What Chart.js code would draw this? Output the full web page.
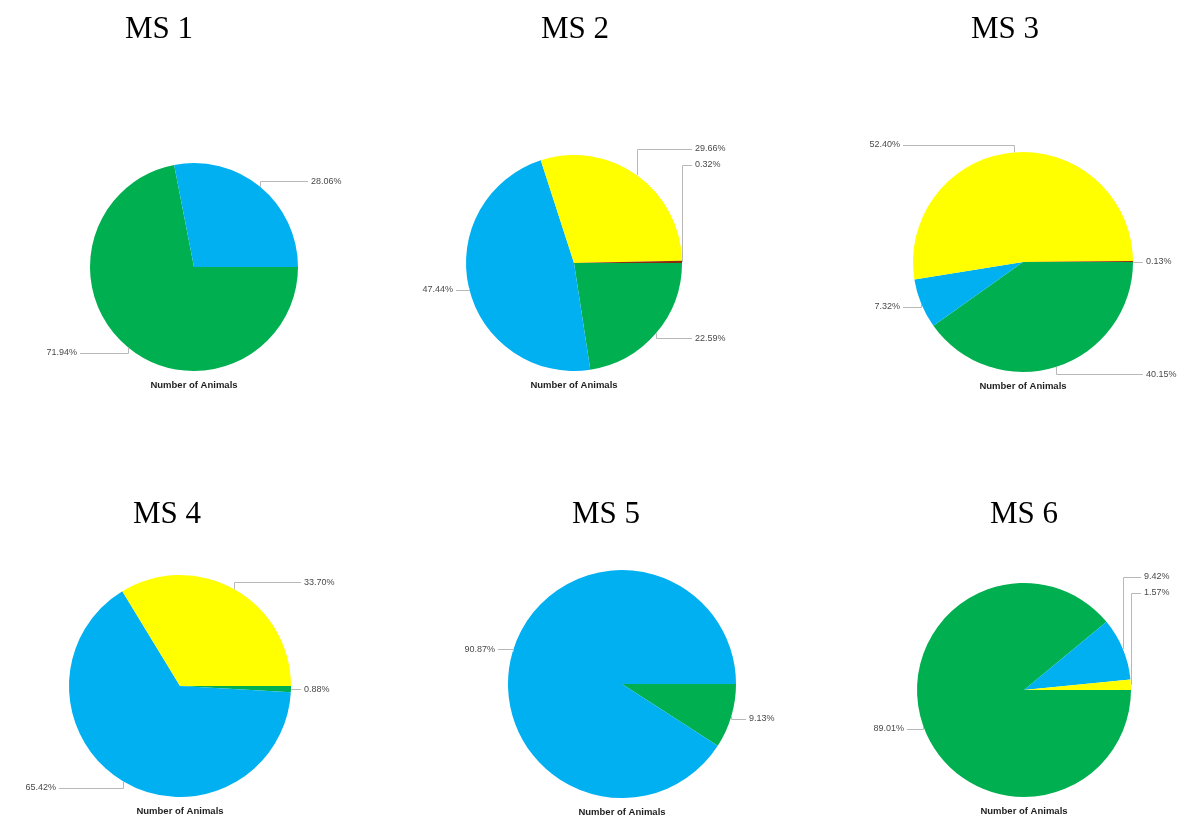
<!DOCTYPE html>
<html><head><meta charset="utf-8">
<script src="https://cdn.jsdelivr.net/npm/chart.js@4"></script>
<style>
html,body{margin:0;padding:0;background:#fff;}
#wrap{position:relative;width:1189px;height:816px;overflow:hidden;background:#fff;}
canvas{position:absolute;left:0;top:0;}
.ttl{position:absolute;width:160px;text-align:center;font-family:'Liberation Serif','Times New Roman',serif;font-size:31px;line-height:31px;color:#000;white-space:nowrap;}
</style></head>
<body><div id="wrap"></div>
<script>
// ---- data ----
const categories = ['Category A', 'Category B', 'Category C', 'Category D'];
const sliceColors = ['#8B2A0E', '#FFFF00', '#00B0F0', '#00B050'];
const panelTitles = ['MS 1', 'MS 2', 'MS 3', 'MS 4', 'MS 5', 'MS 6'];
const valueLabel = 'Number of Animals';
const ms1 = [0, 0, 28.06, 71.94];
const ms2 = [0.32, 29.66, 47.44, 22.59];
const ms3 = [0.13, 52.40, 7.32, 40.15];
const ms4 = [0, 33.70, 65.42, 0.88];
const ms5 = [0, 0, 90.87, 9.13];
const ms6 = [0, 1.57, 9.42, 89.01];
const seriesList = [ms1, ms2, ms3, ms4, ms5, ms6];

// ---- layout (pie centre / radius, title placement) ----
const W = 1189, H = 816;
const layoutBoxes = [
  {cx:194, cy:267, r:104, tx:159, tt:12},
  {cx:574, cy:263, r:108, tx:575, tt:12},
  {cx:1023, cy:262, r:110, tx:1005, tt:12},
  {cx:180, cy:686, r:111, tx:167, tt:497},
  {cx:622, cy:684, r:114, tx:606, tt:497},
  {cx:1024, cy:690, r:107, tx:1024, tt:497}
];

const labelPlugin = {
  id: 'pctLabels',
  afterDatasetsDraw(chart) {
    const ctx = chart.ctx;
    const meta = chart.getDatasetMeta(0);
    const vals = chart.data.datasets[0].data;
    const items = [];
    let CX = 0, CY = 0, RR = 0;
    meta.data.forEach((arc, i) => {
      const p = arc.getProps(['x','y','startAngle','endAngle','outerRadius'], true);
      CX = p.x; CY = p.y; RR = p.outerRadius;
      const v = vals[i];
      if (!v) return;
      const mid = (p.startAngle + p.endAngle) / 2;
      const ex = p.x + p.outerRadius * Math.cos(mid);
      const ey = p.y + p.outerRadius * Math.sin(mid);
      items.push({v, ex, ey, right: Math.cos(mid) >= -1e-9, upper: ey < p.y,
                  ly: p.y + (ey - p.y) * 1.07});
    });
    // stack labels sharing one quadrant
    [[true,true],[true,false],[false,true],[false,false]].forEach(([rt, up]) => {
      const g = items.filter(it => it.right === rt && it.upper === up);
      if (g.length > 1) {
        if (up) {
          g.sort((a,b) => a.ey - b.ey);
          g.forEach((it,k) => { it.ly = CY - RR - 6 + k * 16; });
        } else {
          g.sort((a,b) => b.ey - a.ey);
          g.forEach((it,k) => { it.ly = CY + RR + 6 - k * 16; });
        }
      }
    });
    ctx.save();
    ctx.strokeStyle = '#b8b8b8';
    ctx.lineWidth = 1;
    ctx.font = '9px "Liberation Sans", Arial, sans-serif';
    ctx.fillStyle = '#4a4a4a';
    ctx.textBaseline = 'middle';
    items.forEach(it => {
      const lx = it.right ? CX + RR + 13 : CX - RR - 13;
      const x0 = Math.round(it.ex) + 0.5, ly = Math.round(it.ly) + 0.5;
      ctx.beginPath();
      ctx.moveTo(x0, it.ey);
      ctx.lineTo(x0, ly);
      ctx.lineTo(it.right ? lx - 3 : lx + 3, ly);
      ctx.stroke();
      ctx.textAlign = it.right ? 'left' : 'right';
      ctx.fillText(it.v.toFixed(2) + '%', lx, it.ly);
    });
    ctx.font = 'bold 9.5px "Liberation Sans", Arial, sans-serif';
    ctx.fillStyle = '#1e1e1e';
    ctx.textAlign = 'center';
    ctx.fillText(valueLabel, CX, CY + RR + 14);
    ctx.restore();
  }
};

const wrap = document.getElementById('wrap');
seriesList.forEach((vals, idx) => {
  const b = layoutBoxes[idx];
  const cv = document.createElement('canvas');
  cv.width = W; cv.height = H;
  cv.style.width = W + 'px'; cv.style.height = H + 'px';
  wrap.appendChild(cv);
  const t = document.createElement('div');
  t.className = 'ttl';
  t.textContent = panelTitles[idx];
  t.style.left = (b.tx - 80) + 'px';
  t.style.top = b.tt + 'px';
  wrap.appendChild(t);
  new Chart(cv.getContext('2d'), {
    type: 'pie',
    data: {
      labels: categories.slice().reverse(),
      datasets: [{
        data: vals.slice().reverse(),
        backgroundColor: sliceColors.slice().reverse(),
        borderWidth: 0
      }]
    },
    options: {
      responsive: false,
      animation: false,
      devicePixelRatio: 1,
      rotation: 90,
      layout: {padding: {left: b.cx - b.r, top: b.cy - b.r, right: W - b.cx - b.r, bottom: H - b.cy - b.r}},
      plugins: {legend: {display: false}, tooltip: {enabled: false}, title: {display: false}}
    },
    plugins: [labelPlugin]
  });
});
</script>
</body></html>
